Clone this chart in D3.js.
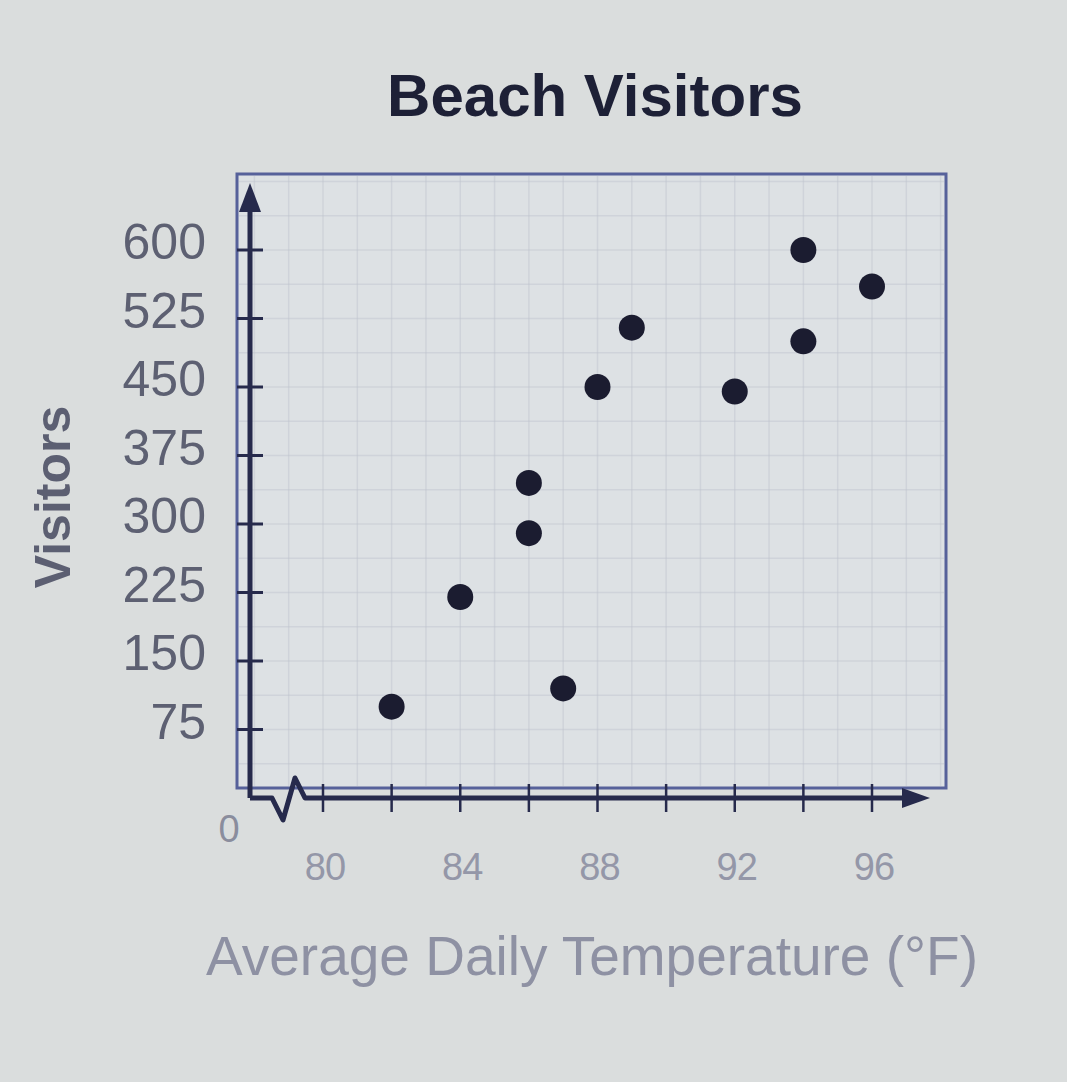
<!DOCTYPE html>
<html>
<head>
<meta charset="utf-8">
<script src="https://cdn.jsdelivr.net/npm/d3@7"></script>
<style>
  html, body { margin: 0; padding: 0; background: #dadddd; }
  svg { display: block; }
</style>
</head>
<body>
<svg id="chart" width="1067" height="1082"></svg>
<script>
// ---- data ----
const temperatures = [82, 84, 86, 86, 87, 88, 89, 92, 94, 94, 96];
const visitors     = [100, 220, 345, 290, 120, 450, 515, 445, 600, 500, 560];
const yTickValues  = [75, 150, 225, 300, 375, 450, 525, 600];
const xTickValues  = [80, 82, 84, 86, 88, 90, 92, 94, 96];
const xTickLabels  = [80, 84, 88, 92, 96];
const titleText = "Beach Visitors";
const xTitleText = "Average Daily Temperature (°F)";
const yTitleText = "Visitors";

// ---- layout ----
const svg = d3.select("#chart");
const W = 1067, H = 1082;
const x = d3.scaleLinear().domain([80, 96]).range([323, 872]);
const y = d3.scaleLinear().domain([0, 600]).range([798, 250]);
const axisX0 = 250;   // y-axis position
const axisColor = "#262a4c";

svg.append("rect").attr("width", W).attr("height", H).attr("fill", "#dadddd");

// plot box
svg.append("rect")
  .attr("x", 237).attr("y", 174).attr("width", 709).attr("height", 614)
  .attr("fill", "#dde1e4").attr("stroke", "#56619a").attr("stroke-width", 3);

// faint grid
const gx = d3.range(78, 99, 1);
svg.append("g").selectAll("line").data(gx.filter(d => x(d) > 240 && x(d) < 944)).join("line")
  .attr("x1", d => x(d)).attr("x2", d => x(d)).attr("y1", 176).attr("y2", 786)
  .attr("stroke", "#bfc4ce").attr("stroke-width", 1.5).attr("opacity", 0.45);
const gy = d3.range(0, 700, 37.5);
svg.append("g").selectAll("line").data(gy.filter(d => y(d) > 176 && y(d) < 786)).join("line")
  .attr("x1", 239).attr("x2", 944).attr("y1", d => y(d)).attr("y2", d => y(d))
  .attr("stroke", "#bfc4ce").attr("stroke-width", 1.5).attr("opacity", 0.45);

// y axis line with arrow
svg.append("line").attr("x1", axisX0).attr("x2", axisX0)
  .attr("y1", y(0)).attr("y2", 200)
  .attr("stroke", axisColor).attr("stroke-width", 5);
svg.append("path")
  .attr("d", `M${axisX0 - 11},${212} L${axisX0},${183} L${axisX0 + 11},${212} Z`)
  .attr("fill", axisColor);

// y ticks
svg.append("g").selectAll("line").data(yTickValues).join("line")
  .attr("x1", axisX0 - 13).attr("x2", axisX0 + 13)
  .attr("y1", d => y(d)).attr("y2", d => y(d))
  .attr("stroke", axisColor).attr("stroke-width", 3);

// y tick labels
svg.append("g").selectAll("text").data(yTickValues).join("text")
  .attr("x", 206).attr("y", d => y(d) - 4)
  .attr("text-anchor", "end").attr("dominant-baseline", "middle")
  .attr("font-family", "Liberation Sans, Arial, sans-serif")
  .attr("font-size", 50).attr("letter-spacing", 0)
  .attr("fill", "#5d6072")
  .text(d => d);

// zero label
svg.append("text").attr("x", 229).attr("y", 832)
  .attr("text-anchor", "middle").attr("dominant-baseline", "middle")
  .attr("font-family", "Liberation Sans, Arial, sans-serif")
  .attr("font-size", 38).attr("fill", "#8a8d9d").text("0");

// x axis with break
const y0 = y(0);
svg.append("path")
  .attr("d", `M${axisX0},${y0} L${axisX0 + 22},${y0} L${axisX0 + 33},${y0 + 22} L${axisX0 + 45},${y0 - 20} L${axisX0 + 55},${y0} L${x(96) + 40},${y0}`)
  .attr("fill", "none").attr("stroke", axisColor).attr("stroke-width", 5)
  .attr("stroke-linejoin", "round");
svg.append("path")
  .attr("d", `M${x(96) + 30},${y0 - 10} L${x(96) + 58},${y0} L${x(96) + 30},${y0 + 10} Z`)
  .attr("fill", axisColor);

// x ticks
svg.append("g").selectAll("line").data(xTickValues).join("line")
  .attr("x1", d => x(d)).attr("x2", d => x(d))
  .attr("y1", y0 - 14).attr("y2", y0 + 14)
  .attr("stroke", axisColor).attr("stroke-width", 2.5);

// x tick labels
svg.append("g").selectAll("text").data(xTickLabels).join("text")
  .attr("x", d => x(d) + 2).attr("y", 870)
  .attr("text-anchor", "middle").attr("dominant-baseline", "middle")
  .attr("font-family", "Liberation Sans, Arial, sans-serif")
  .attr("font-size", 38).attr("letter-spacing", -1)
  .attr("fill", "#9497a8")
  .text(d => d);

// points
svg.append("g").selectAll("circle").data(temperatures.map((t, i) => [t, visitors[i]])).join("circle")
  .attr("cx", d => x(d[0])).attr("cy", d => y(d[1])).attr("r", 13)
  .attr("fill", "#1b1c30");

// title
svg.append("text").attr("x", 595).attr("y", 100)
  .attr("text-anchor", "middle").attr("dominant-baseline", "middle")
  .attr("font-family", "Liberation Sans, Arial, sans-serif")
  .attr("font-weight", "bold").attr("font-size", 60)
  .attr("fill", "#1d2036").text(titleText);

// x title
svg.append("text").attr("x", 592).attr("y", 960)
  .attr("text-anchor", "middle").attr("dominant-baseline", "middle")
  .attr("font-family", "Liberation Sans, Arial, sans-serif")
  .attr("font-size", 55)
  .attr("fill", "#8e91a3").text(xTitleText);

// y title
svg.append("text")
  .attr("transform", "translate(57,497) rotate(-90)")
  .attr("text-anchor", "middle").attr("dominant-baseline", "middle")
  .attr("font-family", "Liberation Sans, Arial, sans-serif")
  .attr("font-weight", "bold").attr("font-size", 50)
  .attr("fill", "#5c5f72").text(yTitleText);
</script>
</body>
</html>
